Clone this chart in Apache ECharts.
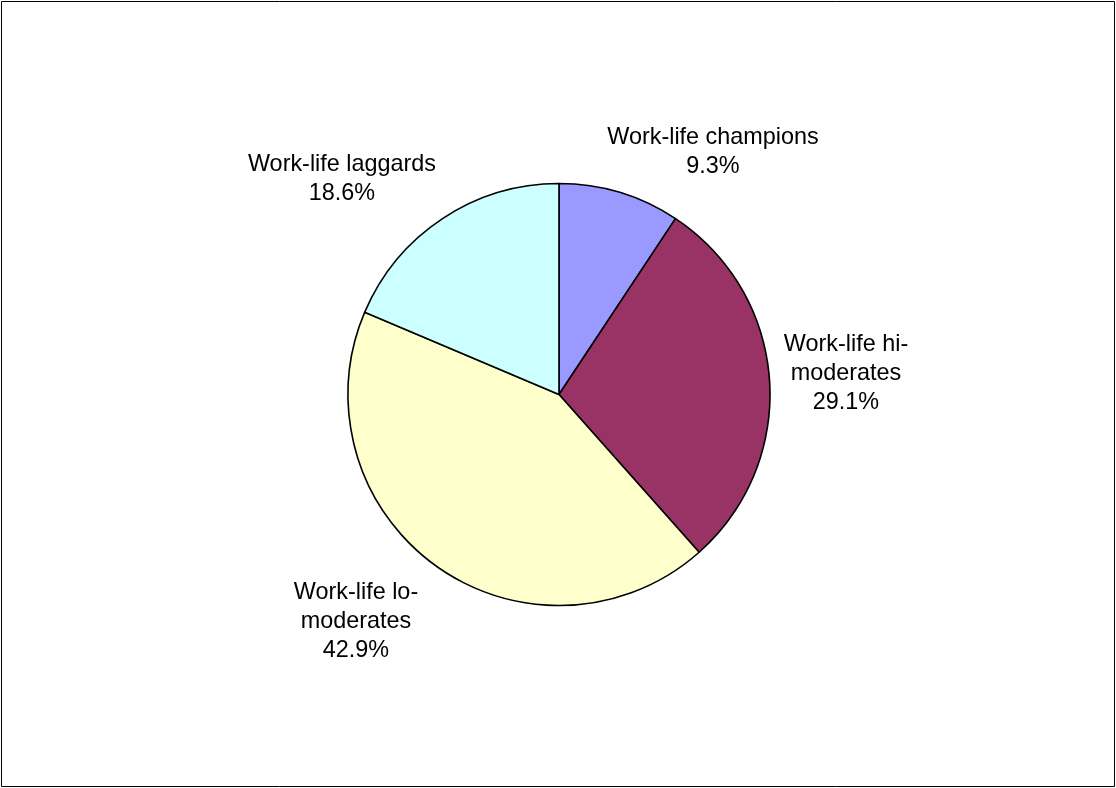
<!DOCTYPE html>
<html>
<head>
<meta charset="utf-8">
<script src="https://cdn.jsdelivr.net/npm/echarts@6/dist/echarts.min.js"></script>
<style>
  html, body { margin: 0; padding: 0; background: #fff; }
  #chart { width: 1116px; height: 788px; }
</style>
</head>
<body>
<div id="chart"></div>
<script>
// Segment shares (percent of respondents)
const categories = ['Work-life champions', 'Work-life hi-moderates', 'Work-life lo-moderates', 'Work-life laggards'];
const labelLines = ['Work-life champions', 'Work-life hi-\nmoderates', 'Work-life lo-\nmoderates', 'Work-life laggards'];
const shares = [9.3, 29.1, 42.9, 18.6];
const sliceColors = ['#9999FF', '#993366', '#FFFFCC', '#CCFFFF'];

// Pie geometry and label anchor offsets (px from pie centre)
const PIE_CX = 559, PIE_CY = 394.5, PIE_R = 211;
const labelOffsets = [[154, -242], [287, -21], [-203, 227], [-217, -215]];

const chart = echarts.init(document.getElementById('chart'), null, { renderer: 'canvas' });

chart.setOption({
  animation: false,
  backgroundColor: '#ffffff',
  graphic: [{
    type: 'rect',
    shape: { x: 1.5, y: 1.5, width: 1113, height: 785 },
    style: { fill: 'none', stroke: '#000', lineWidth: 1 },
    silent: true
  }],
  series: [{
    type: 'pie',
    center: [PIE_CX, PIE_CY],
    radius: [0, PIE_R],
    startAngle: 90,
    clockwise: true,
    avoidLabelOverlap: false,
    data: categories.map((name, i) => ({
      name: name,
      value: shares[i],
      itemStyle: { color: sliceColors[i] }
    })),
    itemStyle: { borderColor: '#000', borderWidth: 1.6 },
    label: {
      show: true,
      position: 'outside',
      fontFamily: '"Liberation Sans", Arial, sans-serif',
      fontSize: 23.4,
      lineHeight: 29,
      color: '#000',
      align: 'center',
      formatter: p => labelLines[p.dataIndex] + '\n' + p.value.toFixed(1) + '%'
    },
    labelLine: { show: false },
    labelLayout: p => ({
      x: PIE_CX + labelOffsets[p.dataIndex][0],
      y: PIE_CY + labelOffsets[p.dataIndex][1],
      align: 'center',
      verticalAlign: 'middle'
    }),
    emphasis: { disabled: true }
  }]
});
</script>
</body>
</html>
